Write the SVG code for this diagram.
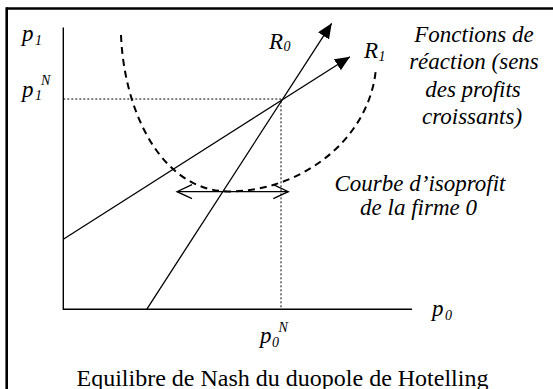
<svg xmlns="http://www.w3.org/2000/svg" width="553" height="389" viewBox="0 0 553 389">
  <defs>
    <marker id="tri" markerUnits="userSpaceOnUse" markerWidth="16" markerHeight="14" refX="15" refY="6.5" orient="auto">
      <path d="M0,0 L15,6.5 L0,13 z" fill="#000"/>
    </marker>
    <marker id="chev" markerUnits="userSpaceOnUse" markerWidth="18" markerHeight="18" refX="16" refY="8" orient="auto-start-reverse">
      <path d="M1,1 L16,8 L1,15" fill="none" stroke="#000" stroke-width="1.3"/>
    </marker>
  </defs>
  <rect width="553" height="389" fill="#fff"/>
  <g id="frame">
    <line x1="6.7" y1="8.5" x2="553" y2="8.5" stroke="#000" stroke-width="2.6"/>
    <line x1="6.7" y1="7.2" x2="6.7" y2="389" stroke="#000" stroke-width="2.6"/>
  </g>
  <g id="connectors" fill="none" stroke="#000">
    <polyline stroke-width="1.4" points="63.3,27.5 63.3,309.3 412,309.3"/>
    <polyline stroke-width="1" stroke-dasharray="2 2" points="63.3,99 281,99 281,309.3"/>
    <line stroke-width="1.3" x1="146.7" y1="309.3" x2="331.7" y2="23.3" marker-end="url(#tri)"/>
    <line stroke-width="1.3" x1="63.3" y1="239.3" x2="350" y2="56.7" marker-end="url(#tri)"/>
    <path stroke-width="2" stroke-dasharray="7 5" d="M121,35 C124,110 160,190 228,191.5 C300,192 370,140 376,68"/>
    <line stroke-width="1.3" x1="177" y1="191.7" x2="288.3" y2="191.7" marker-start="url(#chev)" marker-end="url(#chev)"/>
  </g>
  <g font-family="'Liberation Serif', 'Times New Roman', serif" fill="#000">
    <g font-style="italic">
      <g id="label-p1">
        <text font-size="23" x="22" y="41">p</text>
        <text font-size="14" x="35" y="44.5">1</text>
      </g>
      <g id="label-p1N">
        <text font-size="23" x="22" y="96.5">p</text>
        <text font-size="14" x="35" y="100">1</text>
        <text font-size="14" x="41" y="85">N</text>
      </g>
      <g id="label-R0">
        <text font-size="23" x="269" y="48.5">R</text>
        <text font-size="14" x="283.5" y="51">0</text>
      </g>
      <g id="label-R1">
        <text font-size="23" x="364" y="58">R</text>
        <text font-size="14" x="378.5" y="61">1</text>
      </g>
      <g id="label-fonctions" font-size="23" text-anchor="middle">
        <text x="474" y="42">Fonctions de</text>
        <text x="474" y="69">réaction (sens</text>
        <text x="473" y="96.5">des profits</text>
        <text x="472" y="124">croissants)</text>
      </g>
      <g id="label-isoprofit" font-size="23" text-anchor="middle">
        <text x="420" y="191">Courbe d’isoprofit</text>
        <text x="418.5" y="215">de la firme 0</text>
      </g>
      <g id="label-p0">
        <text font-size="23" x="432" y="316">p</text>
        <text font-size="14" x="445" y="319.5">0</text>
      </g>
      <g id="label-p0N">
        <text font-size="23" x="260" y="343">p</text>
        <text font-size="14" x="272" y="346.5">0</text>
        <text font-size="14" x="278.5" y="331.5">N</text>
      </g>
    </g>
    <g id="caption">
      <text font-size="24" text-anchor="middle" x="282.5" y="385.5">Equilibre de Nash du duopole de Hotelling</text>
    </g>
  </g>
</svg>
